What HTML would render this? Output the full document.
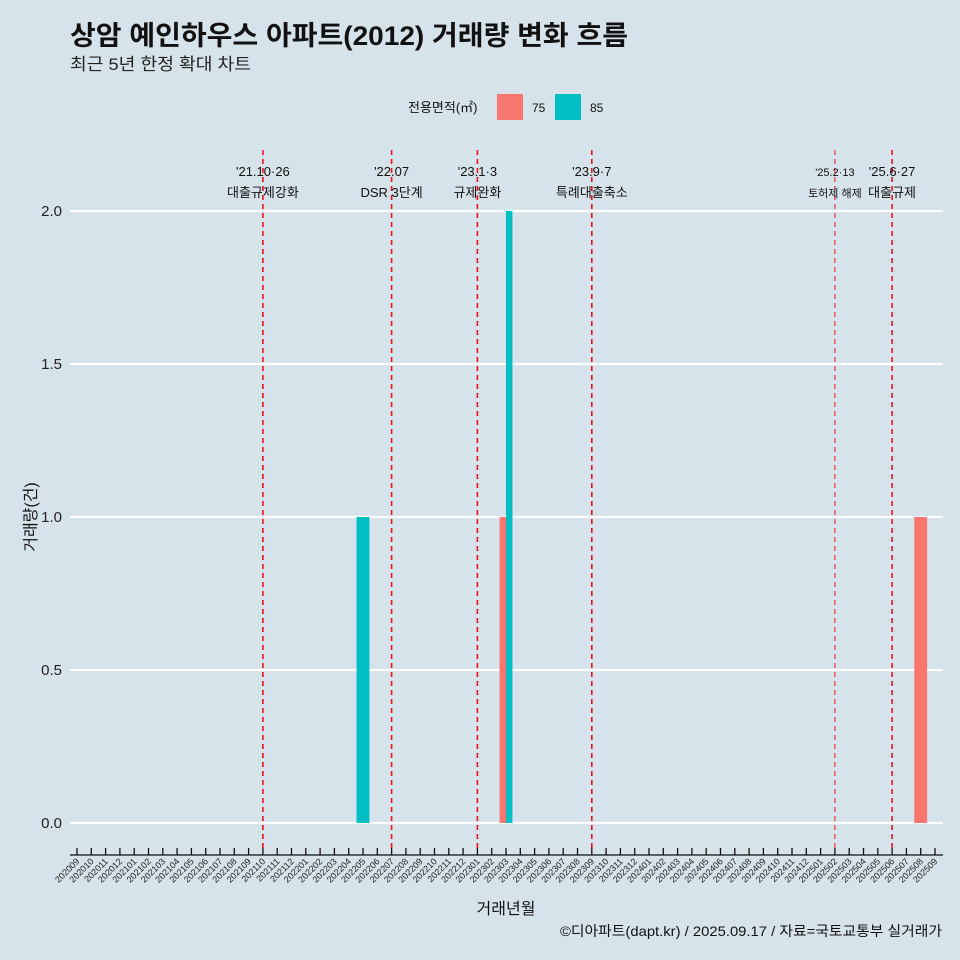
<!DOCTYPE html>
<html><head><meta charset="utf-8"><style>
body{margin:0;background:#d6e3ea;}
svg{display:block;font-family:"Liberation Sans","Noto Sans CJK KR",sans-serif;}
</style></head><body>
<svg id="c" width="960" height="960" viewBox="0 0 960 960">
<rect width="960" height="960" fill="#d6e3ea"/>
<text x="70" y="45" font-size="27" font-weight="bold" fill="#111" textLength="558" lengthAdjust="spacingAndGlyphs">상암 예인하우스 아파트(2012) 거래량 변화 흐름</text>
<text x="70" y="70" font-size="17" fill="#222" textLength="181" lengthAdjust="spacingAndGlyphs">최근 5년 한정 확대 차트</text>
<g>
<text x="408" y="112" font-size="13" fill="#111">전용면적(㎡)</text>
<rect x="497" y="94" width="26" height="26" fill="#f8766d"/>
<text x="532" y="112" font-size="12" fill="#111">75</text>
<rect x="555" y="94" width="26" height="26" fill="#00bfc4"/>
<text x="590" y="112" font-size="12" fill="#111">85</text>
</g>
<g id="grid"></g><g id="bars"></g><g id="events"></g><g id="xaxis"></g>
<text x="36" y="517" font-size="16" fill="#111" text-anchor="middle" transform="rotate(-90 36 517)">거래량(건)</text>
<text x="506" y="914" font-size="16" fill="#111" text-anchor="middle">거래년월</text>
<text x="942" y="936" font-size="14" fill="#111" text-anchor="end" textLength="382" lengthAdjust="spacingAndGlyphs">©디아파트(dapt.kr) / 2025.09.17 / 자료=국토교통부 실거래가</text>
</svg>
<script>
const months=[];for(let y=2020,m=9;!(y===2025&&m===10);){months.push(''+y+(m<10?'0':'')+m);m++;if(m>12){m=1;y++;}}
const yTicks=[0,0.5,1,1.5,2];
const yTickLabels=['0.0','0.5','1.0','1.5','2.0'];
const series75Months=['202303','202508'];
const series75Values=[1,1];
const series85Months=['202205','202303'];
const series85Values=[1,2];
const eventMonths=['202110','202207','202301','202309','202502','202506'];
const eventLine1=["'21.10·26","'22.07","'23.1·3","'23.9·7","'25.2·13","'25.6·27"];
const eventLine2=['대출규제강화','DSR 3단계','규제완화','특례대출축소','토허제 해제','대출규제'];
const NS='http://www.w3.org/2000/svg';
function X(m){return 77+months.indexOf(m)*(935-77)/(months.length-1);}
function Y(v){return 823-v*(823-211)/2;}
function mk(tag,a,p){const e=document.createElementNS(NS,tag);for(const k in a)e.setAttribute(k,a[k]);p.appendChild(e);return e;}
const g=document.getElementById('grid');
yTicks.forEach((t,i)=>{
 const l=mk('line',{x1:70,x2:943,y1:Y(t),y2:Y(t),stroke:'#fff','stroke-width':2.2},g);
 
 
 const tx=mk('text',{x:62,y:Y(t)+5,'font-size':15,'text-anchor':'end',fill:'#222'},g);tx.textContent=yTickLabels[i];
 
 
});
const bw=(935-77)/60*0.9;
const b=document.getElementById('bars');
function has(arr,m){return arr.indexOf(m)>=0;}
function drawBars(ms,vs,color,name,other,first){
 ms.forEach((m,i)=>{
  const dodge=has(other,m);let x=X(m)-bw/2,w=bw;
  if(dodge){w=bw/2;x=first?X(m)-bw/2:X(m);}
  const r=mk('rect',{x:x,y:Y(vs[i]),width:w,height:Y(0)-Y(vs[i]),fill:color},b);
  
  
 });
}
drawBars(series75Months,series75Values,'#f8766d','bar-75',series85Months,true);
drawBars(series85Months,series85Values,'#00bfc4','bar-85',series75Months,false);
const ev=document.getElementById('events');
eventMonths.forEach((m,i)=>{
 const x=X(m);const thin=m==='202502';
 const l=mk('line',{x1:x,x2:x,y1:150,y2:848,stroke:'#e8141c','stroke-width':thin?1:1.6,'stroke-dasharray':'5 4'},ev);
 
 
 const fs=thin?11:13;
 const t1=mk('text',{x:x,y:176,'font-size':fs,'text-anchor':'middle',fill:'#111'},ev);t1.textContent=eventLine1[i];
 
 
 const t2=mk('text',{x:x,y:197,'font-size':fs,'text-anchor':'middle',fill:'#111'},ev);t2.textContent=eventLine2[i];
 
 
});
const xa=document.getElementById('xaxis');
const al=mk('line',{x1:70,x2:943,y1:855,y2:855,stroke:'#111','stroke-width':1.3},xa);


months.forEach(m=>{
 const x=X(m);
 const tk=mk('line',{x1:x,x2:x,y1:848,y2:855,stroke:'#111','stroke-width':1.3},xa);
 
 
 const t=mk('text',{x:x+3,y:862,'font-size':9,'text-anchor':'end',fill:'#222',transform:`rotate(-45 ${x+3} 862)`},xa);t.textContent=m;
 
 
});
</script>
</body></html>
